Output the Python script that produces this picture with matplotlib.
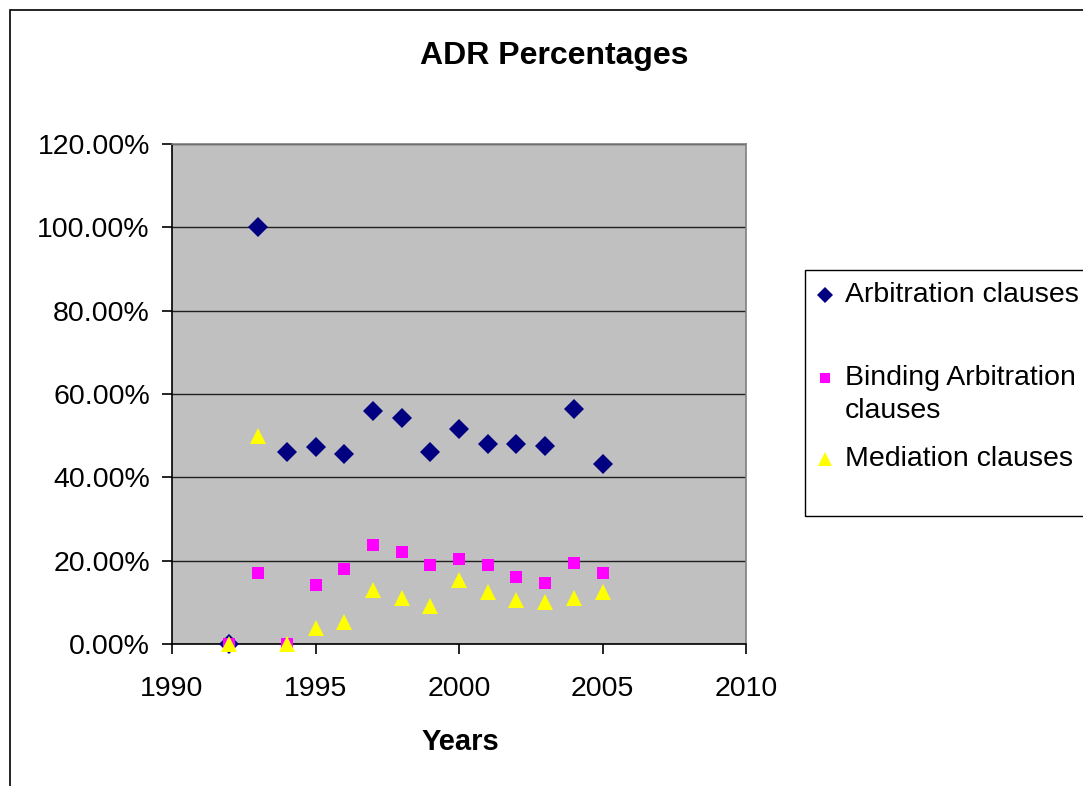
import matplotlib
matplotlib.use('Agg')
import matplotlib.pyplot as plt
from matplotlib.lines import Line2D
from matplotlib.patches import Rectangle
from matplotlib.ticker import FuncFormatter

plt.rcParams['font.family'] = ['Liberation Sans', 'DejaVu Sans']

years = [1992, 1993, 1994, 1995, 1996, 1997, 1998, 1999, 2000, 2001, 2002, 2003, 2004, 2005]
arbitration = [0.0, 1.0, 0.462, 0.472, 0.457, 0.559, 0.543, 0.462, 0.515, 0.481, 0.481, 0.476, 0.563, 0.433]
binding = [0.0, 0.171, 0.0, 0.141, 0.180, 0.238, 0.220, 0.189, 0.205, 0.189, 0.161, 0.147, 0.195, 0.171]
mediation = [0.0, 0.500, 0.0, 0.039, 0.052, 0.130, 0.110, 0.091, 0.153, 0.125, 0.106, 0.101, 0.111, 0.125]

labels = ['Arbitration clauses', 'Binding Arbitration\nclauses', 'Mediation clauses']
colors = ['#000080', '#FF00FF', '#FFFF00']
markers = ['D', 's', '^']
sizes = [10, 8.8, 12]

fig = plt.figure(figsize=(10.83, 7.86), dpi=100)
ax = fig.add_axes([172 / 1083, 1 - 644 / 786, 574 / 1083, 500 / 786])
ax.set_facecolor('#C0C0C0')

# outer chart border (cut off on right and bottom)
fig.patches.append(Rectangle((10 / 1083, -0.1), 1.2, 1 - 10 / 786 + 0.1,
                             transform=fig.transFigure, fill=False,
                             edgecolor='black', linewidth=1.2))

series = [arbitration, binding, mediation]
for vals, c, m, s in zip(series, colors, markers, sizes):
    ax.plot(years, vals, linestyle='none', marker=m, markersize=s,
            color=c, markeredgewidth=0, clip_on=False, zorder=3)

ax.set_xlim(1990, 2010)
ax.set_ylim(0, 1.2)
ax.set_xticks([1990, 1995, 2000, 2005, 2010])
ax.set_yticks([0, 0.2, 0.4, 0.6, 0.8, 1.0, 1.2])
ax.yaxis.set_major_formatter(FuncFormatter(lambda v, p: f'{v * 100:.2f}%'))
ax.yaxis.grid(True, color='#202020', linewidth=1.0)
ax.set_axisbelow(True)

ax.tick_params(axis='both', direction='out', length=7, width=1.2, labelsize=20.5, colors='black')
ax.tick_params(axis='y', pad=9)
ax.tick_params(axis='x', pad=16)
for side in ['left', 'bottom']:
    ax.spines[side].set_color('black')
    ax.spines[side].set_linewidth(1.2)
for side in ['top', 'right']:
    ax.spines[side].set_color('#808080')
    ax.spines[side].set_linewidth(1.2)

fig.text(554 / 1083, 1 - 56 / 786, 'ADR Percentages', ha='center', va='center',
         fontsize=23, fontweight='bold')
fig.text(460 / 1083, 1 - 742 / 786, 'Years', ha='center', va='center',
         fontsize=21, fontweight='bold')

# legend box
fig.patches.append(Rectangle((805 / 1083, 1 - 516 / 786), 0.4, 246 / 786,
                             transform=fig.transFigure, fill=False,
                             edgecolor='black', linewidth=1.0))
entry_y = [295, 378, 459]
for lab, c, m, s, ey in zip(labels, colors, markers, sizes, entry_y):
    fig.lines.append(Line2D([825 / 1083], [1 - ey / 786], transform=fig.transFigure,
                            marker=m, markersize=s * 0.8, color=c, markeredgewidth=0,
                            linestyle='none'))
    for i, line in enumerate(lab.split('\n')):
        fig.text(845 / 1083, 1 - (ey + 33 * i) / 786, line, ha='left', va='center',
                 fontsize=20.5)

fig.savefig('out.png', dpi=100)
